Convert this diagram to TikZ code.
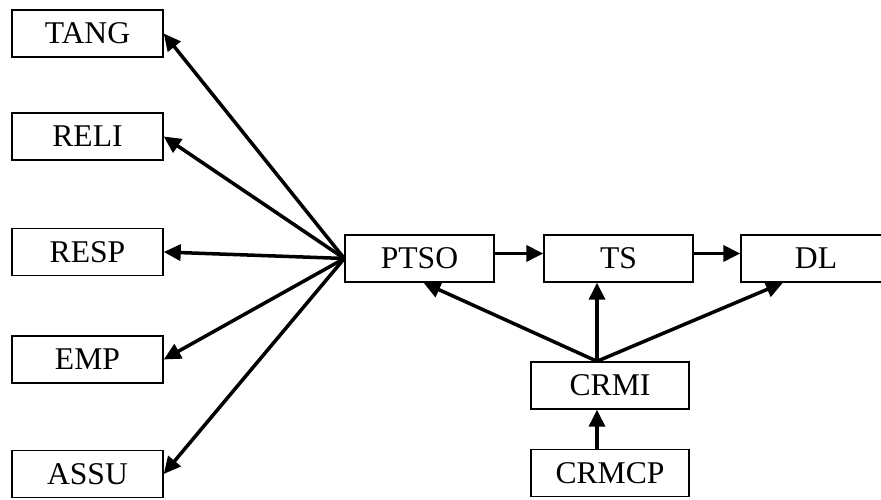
\documentclass[tikz,border=0pt]{standalone}
\usepackage{fontspec}
\setmainfont{Liberation Serif}
\usepackage{tikz}
\usetikzlibrary{arrows.meta, positioning, calc}
\tikzset{
  box/.style={rectangle, draw=black, fill=white, line width=0.8pt,
    minimum width=3.02cm, minimum height=0.94cm, inner sep=0pt,
    font=\fontsize{18}{20}\selectfont},
  arrow/.style={-{Triangle[length=0.34cm, width=0.32cm]}, line width=2pt}
}
\begin{document}
\begin{tikzpicture}
  \useasboundingbox (0,0) rectangle (17.62,10);
  % left column
  \node[box] (tang) at (1.75,9.33) {TANG};
  \node[box] (reli) at (1.75,7.27) {RELI};
  \node[box] (resp) at (1.75,4.96) {RESP};
  \node[box] (emp)  at (1.75,2.81) {EMP};
  \node[box] (assu) at (1.75,0.52) {ASSU};
  % main chain
  \node[box, minimum width=2.98cm] (ptso) at (8.39,4.83) {PTSO};
  \node[box, minimum width=2.98cm] (ts)   at (12.37,4.83) {TS};
  \node[box, minimum width=3.0cm]  (dl)   at (16.32,4.83) {DL};
  \node[box, minimum width=3.16cm] (crmi) at (12.2,2.29) {CRMI};
  \node[box, minimum width=3.16cm] (crmcp) at (12.2,0.54) {CRMCP};
  \coordinate (hub) at ($(crmi.north)+(-0.26,0)$);
  % arrows to the left
  \foreach \n in {tang, reli, resp, emp, assu}
    \draw[arrow] (ptso.west) -- (\n.east);
  \draw[arrow] ([yshift=0.1cm]ptso.east) -- ([yshift=0.1cm]ts.west);
  \draw[arrow] ([yshift=0.1cm]ts.east) -- ([yshift=0.1cm]dl.west);
  % from CRMI
  \draw[arrow] (hub) -- ($(ptso.south)+(0.08,0)$);
  \draw[arrow] (hub) -- (hub |- ts.south);
  \draw[arrow] (hub) -- ($(dl.south)+(-0.66,0)$);
  \draw[arrow] (hub |- crmcp.north) -- (hub |- crmi.south);
\end{tikzpicture}
\end{document}
